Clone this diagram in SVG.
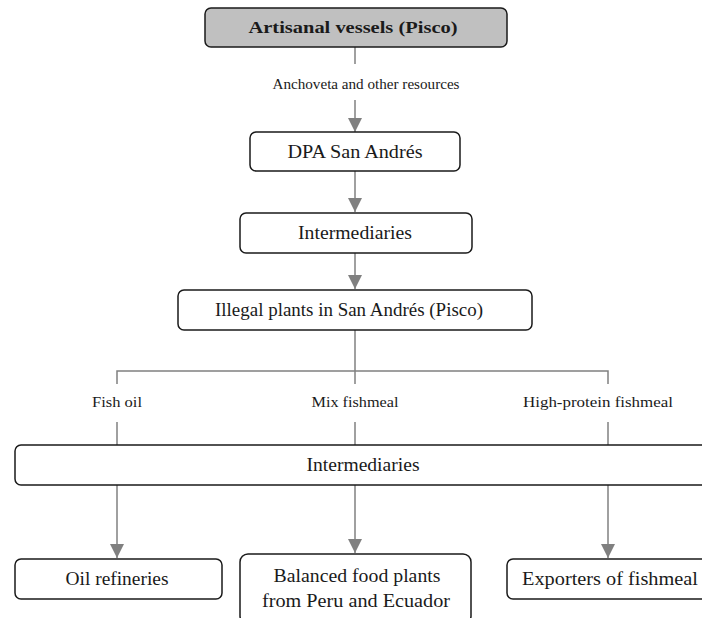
<svg xmlns="http://www.w3.org/2000/svg" width="702" height="618" viewBox="0 0 702 618">
<style>
.box{fill:#fff;stroke:#1a1a1a;stroke-width:1.5}
.top{fill:#c0c0c0;stroke:#1a1a1a;stroke-width:1.5}
text{font-family:'Liberation Serif','Times New Roman',serif;fill:#1a1a1a;text-anchor:middle}
.t{font-size:18px}
.s{font-size:14px}
.b{font-weight:bold;font-size:17px}
.c{stroke:#808080;stroke-width:1.5;fill:none}
</style>
<g id="connectors">
<line class="c" x1="355" y1="47" x2="355" y2="64"/>
<line class="c" x1="355" y1="100" x2="355" y2="132"/>
<line class="c" x1="355" y1="171" x2="355" y2="212"/>
<line class="c" x1="355" y1="253" x2="355" y2="289"/>
<polyline class="c" points="355,330 355,371"/>
<polyline class="c" points="117,384 117,371 608,371 608,384"/>
<line class="c" x1="355" y1="371" x2="355" y2="384"/>
<line class="c" x1="117" y1="422" x2="117" y2="445"/>
<line class="c" x1="355" y1="422" x2="355" y2="445"/>
<line class="c" x1="608" y1="422" x2="608" y2="445"/>
<line class="c" x1="117" y1="485" x2="117" y2="558"/>
<line class="c" x1="355" y1="485" x2="355" y2="553"/>
<line class="c" x1="608" y1="485" x2="608" y2="558"/>
<g fill="#808080">
<path d="M348,118 L362,118 L355,132 Z"/>
<path d="M348,198 L362,198 L355,212 Z"/>
<path d="M348,275 L362,275 L355,289 Z"/>
<path d="M110,544 L124,544 L117,558 Z"/>
<path d="M348,539 L362,539 L355,553 Z"/>
<path d="M601,544 L615,544 L608,558 Z"/>
</g>
<text class="s" x="366" y="89" textLength="187" lengthAdjust="spacingAndGlyphs">Anchoveta and other resources</text>
<text class="s" x="117" y="407" textLength="50" lengthAdjust="spacingAndGlyphs">Fish oil</text>
<text class="s" x="355" y="407" textLength="87" lengthAdjust="spacingAndGlyphs">Mix fishmeal</text>
<text class="s" x="598" y="407" textLength="150" lengthAdjust="spacingAndGlyphs">High-protein fishmeal</text>
</g>
<g id="artisanal">
<rect class="top" x="205" y="8" width="302" height="39" rx="6"/>
<text class="b" x="353" y="33" textLength="209" lengthAdjust="spacingAndGlyphs">Artisanal vessels (Pisco)</text>
</g>
<g id="dpa">
<rect class="box" x="250" y="132" width="210" height="39" rx="6"/>
<text class="t" x="355" y="158" textLength="135" lengthAdjust="spacingAndGlyphs">DPA San Andrés</text>
</g>
<g id="intermediaries1">
<rect class="box" x="240" y="213" width="232" height="40" rx="6"/>
<text class="t" x="355" y="239" textLength="114" lengthAdjust="spacingAndGlyphs">Intermediaries</text>
</g>
<g id="illegal">
<rect class="box" x="178" y="290" width="354" height="40" rx="6"/>
<text class="t" x="349" y="316" textLength="268" lengthAdjust="spacingAndGlyphs">Illegal plants in San Andrés (Pisco)</text>
</g>
<g id="intermediaries2">
<rect class="box" x="15" y="445" width="697" height="40" rx="6"/>
<text class="t" x="363" y="471" textLength="113" lengthAdjust="spacingAndGlyphs">Intermediaries</text>
</g>
<g id="oil">
<rect class="box" x="15" y="559" width="207" height="40" rx="6"/>
<text class="t" x="117" y="585" textLength="103" lengthAdjust="spacingAndGlyphs">Oil refineries</text>
</g>
<g id="balanced">
<rect class="box" x="240" y="554" width="231" height="70" rx="8"/>
<text class="t" x="357" y="582" textLength="167" lengthAdjust="spacingAndGlyphs">Balanced food plants</text>
<text class="t" x="356" y="607" textLength="188" lengthAdjust="spacingAndGlyphs">from Peru and Ecuador</text>
</g>
<g id="exporters">
<rect class="box" x="507" y="559" width="210" height="40" rx="6"/>
<text class="t" x="610" y="585" textLength="176" lengthAdjust="spacingAndGlyphs">Exporters of fishmeal</text>
</g>
</svg>
